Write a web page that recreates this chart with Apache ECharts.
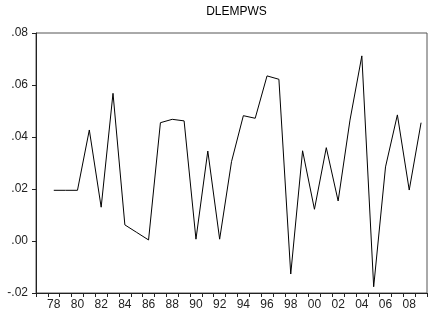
<!DOCTYPE html>
<html>
<head>
<meta charset="utf-8">
<script src="https://cdn.jsdelivr.net/npm/echarts@6/dist/echarts.min.js"></script>
<style>html,body{margin:0;padding:0;background:#fff}#c{width:444px;height:320px}</style>
</head>
<body>
<div id="c"></div>
<script>
const title = 'DLEMPWS';
const years = ['77','78','79','80','81','82','83','84','85','86','87','88','89','90','91','92','93','94','95','96','97','98','99','00','01','02','03','04','05','06','07','08','09'];
const values = [null,0.0195,0.0195,0.0195,0.0427,0.0130,0.0568,0.0062,0.0033,0.0004,0.0455,0.0468,0.0462,0.0007,0.0346,0.0007,0.0305,0.0482,0.0472,0.0635,0.0622,-0.0127,0.0347,0.0122,0.0359,0.0154,0.0465,0.0712,-0.0176,0.0285,0.0485,0.0196,0.0455];
const yMin = -0.02, yMax = 0.08, yStep = 0.02;

const chart = echarts.init(document.getElementById('c'), null, {renderer:'canvas'});
const font = 'Liberation Sans, Arial, sans-serif';
chart.setOption({
  animation: false,
  backgroundColor: '#fff',
  title: {
    text: title, left: 231.5, textAlign: 'center', top: 1,
    textStyle: {fontFamily: font, fontSize: 12, fontWeight: 'normal', color: '#000'}
  },
  grid: {left: 36, right: 17, top: 33, bottom: 27, show: true, borderColor: '#555', borderWidth: 1, backgroundColor: 'transparent'},
  xAxis: {
    type: 'category', data: years, boundaryGap: true,
    axisLine: {onZero: false, lineStyle: {color: '#222', width: 1}},
    axisTick: {show: true, interval: 0, length: 4, inside: false, lineStyle: {color: '#222'}},
    axisLabel: {interval: (i) => i % 2 === 1, margin: 6, fontFamily: font, fontSize: 12, color: '#222'},
    splitLine: {show: false}
  },
  yAxis: {
    type: 'value', min: yMin, max: yMax, interval: yStep,
    axisLine: {show: true, onZero: false, lineStyle: {color: '#222', width: 1}},
    axisTick: {show: true, length: 4, inside: false, lineStyle: {color: '#222'}},
    axisLabel: {margin: 8, fontFamily: font, fontSize: 12, color: '#222',
      formatter: (v) => { let s = Math.abs(v).toFixed(2).replace(/^0\./, '.'); return (v < -1e-9 ? '-' : '') + s; }},
    splitLine: {show: false}
  },
  series: [{
    type: 'line', data: values, showSymbol: false, connectNulls: false,
    lineStyle: {color: '#000', width: 1}
  }]
});
</script>
</body>
</html>
